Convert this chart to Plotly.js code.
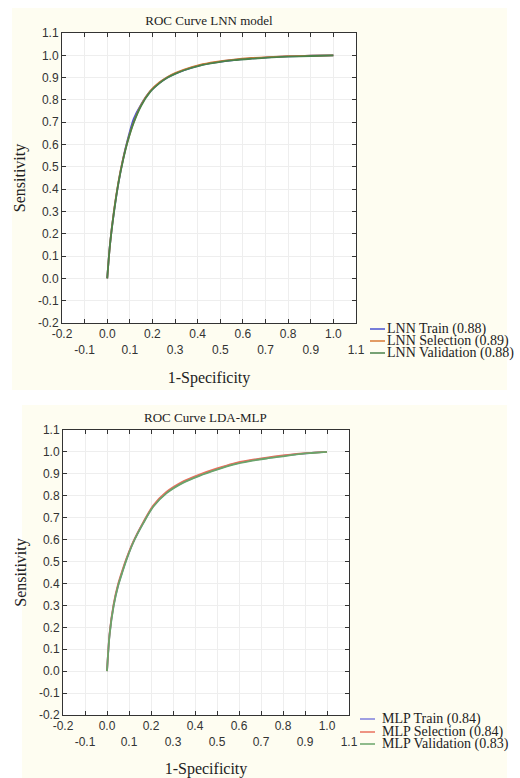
<!DOCTYPE html>
<html>
<head>
<meta charset="utf-8">
<script src="https://cdn.plot.ly/plotly-3.0.1.min.js"></script>
<style>html,body{margin:0;padding:0;background:#fff;}#chart{width:520px;height:778px;}</style>
</head>
<body>
<div id="chart"></div>
<script>
// ---- Data ----
const lnnNames = ["LNN Train (0.88)", "LNN Selection (0.89)", "LNN Validation (0.88)"];
const lnnTrainX = [0, 0.012, 0.03, 0.05, 0.07, 0.09, 0.117, 0.15, 0.19, 0.23, 0.265, 0.30, 0.34, 0.41, 0.48, 0.56, 0.64, 0.71, 0.80, 0.90, 1.0];
const lnnTrainY = [0, 0.15, 0.30, 0.43, 0.535, 0.62, 0.715, 0.78, 0.838, 0.876, 0.90, 0.918, 0.934, 0.955, 0.968, 0.979, 0.986, 0.991, 0.995, 0.998, 1.0];
const lnnSelX = [0, 0.012, 0.03, 0.05, 0.07, 0.09, 0.117, 0.15, 0.19, 0.23, 0.265, 0.30, 0.34, 0.41, 0.48, 0.56, 0.64, 0.71, 0.80, 0.90, 1.0];
const lnnSelY = [0, 0.15, 0.305, 0.435, 0.535, 0.615, 0.70, 0.778, 0.84, 0.878, 0.902, 0.92, 0.936, 0.957, 0.97, 0.981, 0.988, 0.992, 0.996, 0.998, 1.0];
const lnnValX = [0, 0.012, 0.03, 0.05, 0.07, 0.09, 0.117, 0.15, 0.19, 0.23, 0.265, 0.30, 0.34, 0.41, 0.48, 0.56, 0.64, 0.71, 0.80, 0.90, 1.0];
const lnnValY = [0, 0.148, 0.298, 0.43, 0.53, 0.612, 0.698, 0.774, 0.836, 0.874, 0.899, 0.917, 0.933, 0.954, 0.967, 0.978, 0.985, 0.99, 0.994, 0.997, 1.0];

const mlpNames = ["MLP Train (0.84)", "MLP Selection (0.84)", "MLP Validation (0.83)"];
const mlpTrainX = [0, 0.012, 0.03, 0.05, 0.07, 0.09, 0.12, 0.165, 0.21, 0.271, 0.347, 0.42, 0.50, 0.574, 0.65, 0.726, 0.80, 0.862, 0.93, 1.0];
const mlpTrainY = [0, 0.17, 0.30, 0.39, 0.455, 0.515, 0.59, 0.677, 0.752, 0.815, 0.862, 0.893, 0.921, 0.944, 0.96, 0.972, 0.982, 0.99, 0.996, 1.0];
const mlpSelX = [0, 0.012, 0.03, 0.05, 0.07, 0.09, 0.12, 0.165, 0.21, 0.271, 0.347, 0.42, 0.50, 0.574, 0.65, 0.726, 0.80, 0.862, 0.93, 1.0];
const mlpSelY = [0, 0.175, 0.305, 0.395, 0.46, 0.518, 0.592, 0.68, 0.755, 0.818, 0.866, 0.897, 0.925, 0.947, 0.962, 0.974, 0.984, 0.991, 0.996, 1.0];
const mlpValX = [0, 0.012, 0.03, 0.05, 0.07, 0.09, 0.12, 0.165, 0.21, 0.271, 0.347, 0.42, 0.50, 0.574, 0.65, 0.726, 0.80, 0.862, 0.93, 1.0];
const mlpValY = [0, 0.168, 0.297, 0.387, 0.452, 0.512, 0.588, 0.675, 0.75, 0.812, 0.86, 0.891, 0.919, 0.942, 0.958, 0.97, 0.98, 0.989, 0.995, 1.0];

const lnnColors = ["#4a52d0", "#d97a34", "#4a824a"];
const mlpColors = ["#7f7fdc", "#e8705e", "#6aa46a"];

// ---- Axis ticks ----
const tickVals = [];
const xTickText = [];
const yTickText = [];
for (let i = -2; i <= 11; i++) {
  const v = i / 10;
  tickVals.push(v);
  const s = v.toFixed(1);
  xTickText.push(((i % 2) === 0) ? s : "<br>" + s);
  yTickText.push(s);
}

const serif = "Liberation Serif, Times New Roman, serif";
const sans = "Liberation Sans, Arial, sans-serif";

function mkTraces(xs, ys, names, colors, xa, ya) {
  return xs.map((x, k) => ({
    type: "scatter", mode: "lines", x: x, y: ys[k], name: names[k],
    xaxis: xa, yaxis: ya, showlegend: false,
    line: {color: colors[k], width: 1.8, shape: "spline", smoothing: 0.8}
  }));
}

const traces = [].concat(
  mkTraces([lnnTrainX, lnnSelX, lnnValX], [lnnTrainY, lnnSelY, lnnValY], lnnNames, lnnColors, "x", "y"),
  mkTraces([mlpTrainX, mlpSelX, mlpValX], [mlpTrainY, mlpSelY, mlpValY], mlpNames, mlpColors, "x2", "y2")
);

function xAxis(domain, anchor) {
  return {
    domain: domain, anchor: anchor, range: [-0.2, 1.1], autorange: false,
    tickvals: tickVals, ticktext: xTickText, tickangle: 0, ticks: "inside", ticklen: 4,
    tickcolor: "#333", mirror: "ticks", showline: true, linecolor: "#333", linewidth: 1,
    showgrid: true, gridcolor: "#eeeeee", gridwidth: 1, zeroline: false,
    tickfont: {family: sans, size: 12, color: "#333"},
    title: {text: "1-Specificity", font: {family: serif, size: 16, color: "#222"}, standoff: 15}
  };
}
function yAxis(domain, anchor) {
  return {
    domain: domain, anchor: anchor, range: [-0.2, 1.1], autorange: false,
    tickvals: tickVals, ticktext: yTickText, ticks: "inside", ticklen: 4,
    tickcolor: "#333", mirror: "ticks", showline: true, linecolor: "#333", linewidth: 1,
    showgrid: true, gridcolor: "#eeeeee", gridwidth: 1, zeroline: false,
    tickfont: {family: sans, size: 12, color: "#333"},
    title: {text: "Sensitivity", font: {family: serif, size: 16, color: "#222"}, standoff: 8}
  };
}

const W = 520, H = 778;
const boxTop = {x0: 62, x1: 356, y0: 33, y1: 323};
const boxBot = {x0: 63, x1: 349, y0: 430, y1: 715};
function dx(a, b) { return [a / W, b / W]; }
function dy(a, b) { return [1 - b / H, 1 - a / H]; }

const cream = "#fefdf1";
const shapes = [
  {type: "rect", xref: "paper", yref: "paper", x0: 12 / W, x1: 507 / W, y0: 1 - 390 / H, y1: 1 - 8 / H,
   fillcolor: cream, line: {width: 0}, layer: "below"},
  {type: "rect", xref: "paper", yref: "paper", x0: 22 / W, x1: 507 / W, y0: 0, y1: 1 - 405 / H,
   fillcolor: cream, line: {width: 0}, layer: "below"},
  // white plotting areas (drawn under the grid)
  {type: "rect", xref: "x domain", yref: "y domain", x0: 0, x1: 1, y0: 0, y1: 1,
   fillcolor: "#ffffff", line: {width: 0}, layer: "below"},
  {type: "rect", xref: "x2 domain", yref: "y2 domain", x0: 0, x1: 1, y0: 0, y1: 1,
   fillcolor: "#ffffff", line: {width: 0}, layer: "below"}
];
const annotations = [
  {text: "ROC Curve LDA-MLP", xref: "paper", yref: "paper", x: 205 / W, y: 1 - 417 / H,
   showarrow: false, font: {family: serif, size: 13, color: "#222"}, xanchor: "center", yanchor: "middle"}
];
// custom compact legends
function addLegend(names, colors, lx0, lx1, tx, rows) {
  names.forEach((n, k) => {
    const yy = 1 - rows[k] / H;
    shapes.push({type: "line", xref: "paper", yref: "paper", x0: lx0 / W, x1: lx1 / W, y0: yy, y1: yy,
                 line: {color: colors[k], width: 1.5}});
    annotations.push({text: n, xref: "paper", yref: "paper", x: tx / W, y: yy, showarrow: false,
                      xanchor: "left", yanchor: "middle", font: {family: serif, size: 14, color: "#222"}});
  });
}
addLegend(lnnNames, lnnColors, 370, 385, 385, [329, 341, 353]);
addLegend(mlpNames, mlpColors, 360, 375, 380, [719, 732, 744]);

const layout = {
  width: W, height: H, autosize: false,
  margin: {l: 0, r: 0, t: 0, b: 0, pad: 0},
  paper_bgcolor: "#ffffff", plot_bgcolor: "#ffffff",
  showlegend: false,
  title: {text: "ROC Curve LNN model", font: {family: serif, size: 13, color: "#222"},
          x: 209 / W, xanchor: "center", y: 1 - 20 / H, yanchor: "middle", xref: "paper", yref: "paper"},
  xaxis: xAxis(dx(boxTop.x0, boxTop.x1), "y"),
  yaxis: yAxis(dy(boxTop.y0, boxTop.y1), "x"),
  xaxis2: xAxis(dx(boxBot.x0, boxBot.x1), "y2"),
  yaxis2: yAxis(dy(boxBot.y0, boxBot.y1), "x2"),
  shapes: shapes,
  annotations: annotations
};

Plotly.newPlot("chart", traces, layout, {displayModeBar: false, staticPlot: true});
</script>
</body>
</html>
